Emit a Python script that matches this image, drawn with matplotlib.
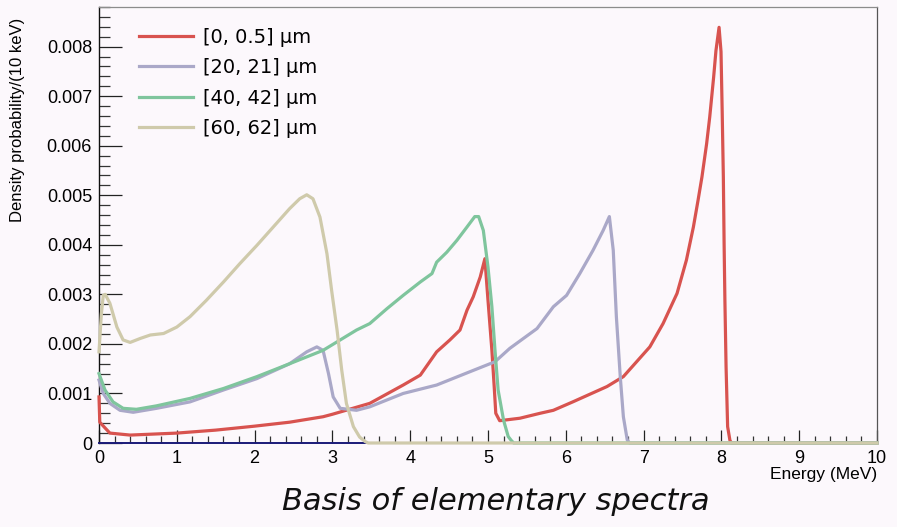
import matplotlib
matplotlib.use("Agg")
import matplotlib.pyplot as plt
from matplotlib.ticker import MultipleLocator, FuncFormatter

# Spectra: energy (MeV) and density probability per 10 keV
labels = ["[0, 0.5] \u03bcm", "[20, 21] \u03bcm", "[40, 42] \u03bcm", "[60, 62] \u03bcm"]
colors = ["#d8534f", "#aaa8c8", "#7fc59d", "#cfcaab"]

e_0_05 = [0.0, 0.01, 0.08, 0.14, 0.4, 1.0, 1.5, 2.0, 2.45, 2.88, 3.0, 3.48, 3.91, 4.13,
          4.34, 4.51, 4.64, 4.73, 4.81, 4.90, 4.96, 5.00, 5.05, 5.08, 5.10, 5.15, 5.41,
          5.67, 5.84, 6.09, 6.53, 6.74, 6.91, 7.08, 7.25, 7.43, 7.55, 7.64, 7.70, 7.75,
          7.81, 7.85, 7.90, 7.93, 7.97, 7.995, 8.01, 8.025, 8.035, 8.045, 8.06, 8.08,
          8.11, 8.13, 10.0]
p_0_05 = [0.00093, 0.00042, 0.00030, 0.00020, 0.00016, 0.00020, 0.00026, 0.00034,
          0.00042, 0.00053, 0.00058, 0.00080, 0.00117, 0.00137, 0.00184, 0.00208,
          0.00228, 0.00268, 0.00295, 0.00335, 0.00372, 0.00288, 0.00187, 0.00113,
          0.00060, 0.00045, 0.00050, 0.00060, 0.00066, 0.00083, 0.00114, 0.00134,
          0.00164, 0.00194, 0.00241, 0.00302, 0.00369, 0.00436, 0.00490, 0.00537,
          0.00604, 0.00658, 0.00738, 0.00792, 0.00839, 0.00790, 0.00670, 0.00537,
          0.00400, 0.00288, 0.00154, 0.00033, 0.00005, 0.0, 0.0]

e_20_21 = [0.0, 0.055, 0.14, 0.27, 0.44, 0.74, 1.17, 1.6, 2.03, 2.45, 2.67, 2.80, 2.88,
           2.95, 3.01, 3.10, 3.31, 3.48, 3.91, 4.34, 4.77, 5.09, 5.28, 5.63, 5.84, 6.01,
           6.18, 6.35, 6.48, 6.56, 6.61, 6.65, 6.70, 6.74, 6.79, 6.82, 10.0]
p_20_21 = [0.00127, 0.00100, 0.00080, 0.00066, 0.00062, 0.00070, 0.00083, 0.00107,
           0.00130, 0.00160, 0.00184, 0.00194, 0.00187, 0.00140, 0.00093, 0.00070,
           0.00066, 0.00073, 0.00100, 0.00117, 0.00144, 0.00164, 0.00191, 0.00231,
           0.00275, 0.00298, 0.00342, 0.00389, 0.00429, 0.00457, 0.00389, 0.00255,
           0.00134, 0.00053, 0.00006, 0.0, 0.0]

e_40_42 = [0.0, 0.077, 0.18, 0.31, 0.48, 0.74, 1.17, 1.6, 2.03, 2.45, 2.88, 3.31, 3.48,
           3.70, 3.91, 4.13, 4.28, 4.34, 4.47, 4.60, 4.73, 4.83, 4.88, 4.94, 5.00, 5.05,
           5.09, 5.13, 5.20, 5.26, 5.30, 5.33, 10.0]
p_40_42 = [0.00140, 0.00107, 0.00083, 0.00070, 0.00068, 0.00075, 0.00090, 0.00110,
           0.00134, 0.00160, 0.00187, 0.00228, 0.00241, 0.00271, 0.00298, 0.00325,
           0.00342, 0.00365, 0.00385, 0.00409, 0.00436, 0.00457, 0.00457, 0.00429,
           0.00355, 0.00275, 0.00187, 0.00107, 0.00046, 0.00013, 0.00005, 0.0, 0.0]

e_60_62 = [0.0, 0.03, 0.055, 0.08, 0.14, 0.23, 0.31, 0.40, 0.53, 0.66, 0.83, 1.0, 1.17,
           1.38, 1.6, 1.81, 2.03, 2.24, 2.45, 2.58, 2.67, 2.75, 2.84, 2.93, 2.99, 3.06,
           3.12, 3.18, 3.27, 3.35, 3.42, 3.46, 10.0]
p_60_62 = [0.00184, 0.00260, 0.00298, 0.00300, 0.00282, 0.00234, 0.00208, 0.00203,
           0.00211, 0.00218, 0.00221, 0.00234, 0.00255, 0.00288, 0.00325, 0.00362,
           0.00399, 0.00436, 0.00473, 0.00493, 0.00501, 0.00493, 0.00456, 0.00382,
           0.00308, 0.00228, 0.00147, 0.00080, 0.00033, 0.00012, 0.00003, 0.0, 0.0]

y_ticks = [0, 0.001, 0.002, 0.003, 0.004, 0.005, 0.006, 0.007, 0.008]
x_ticks = [0, 1, 2, 3, 4, 5, 6, 7, 8, 9, 10]

bg = "#fcf8fc"
W, H = 897, 527
fig = plt.figure(figsize=(W / 100, H / 100), dpi=100, facecolor=bg)
ax = fig.add_axes([99 / W, 1 - 443 / H, 778 / W, 436 / H], facecolor=bg)

series = [(e_0_05, p_0_05), (e_20_21, p_20_21), (e_40_42, p_40_42), (e_60_62, p_60_62)]
for (e, p), c, lab in zip(series, colors, labels):
    ax.plot(e, p, color=c, lw=2.3, label=lab, solid_joinstyle="round", zorder=3,
            clip_on=False)

ax.set_xlim(0, 10)
ax.set_ylim(0, 0.0088)

ax.set_xticks(x_ticks)
ax.set_yticks(y_ticks)
ax.xaxis.set_minor_locator(MultipleLocator(0.2))
ax.yaxis.set_minor_locator(MultipleLocator(0.0002))
ax.yaxis.set_major_formatter(FuncFormatter(lambda v, _: "0" if v == 0 else f"{v:.3f}"))
ax.xaxis.set_major_formatter(FuncFormatter(lambda v, _: f"{v:g}"))

for lbl in ax.get_xticklabels() + ax.get_yticklabels():
    lbl.set_fontfamily("Liberation Sans")
    lbl.set_fontsize(13)

ax.tick_params(axis="y", which="major", direction="in", length=16.5, width=0.9,
               color="#222222", pad=5)
ax.tick_params(axis="y", which="minor", direction="in", length=8, width=0.9,
               color="#333333")
ax.tick_params(axis="x", which="major", direction="in", length=9.5, width=0.9,
               color="#222222", pad=5)
ax.tick_params(axis="x", which="minor", direction="in", length=5, width=0.9,
               color="#333333")

ax.spines["left"].set_color("#111111")
ax.spines["left"].set_linewidth(1.0)
ax.spines["bottom"].set_color("#1a1a78")
ax.spines["bottom"].set_linewidth(1.4)
ax.spines["top"].set_color("#8c8c8c")
ax.spines["top"].set_linewidth(0.9)
ax.spines["right"].set_color("#555555")
ax.spines["right"].set_linewidth(0.9)

leg = ax.legend(loc="upper left", bbox_to_anchor=(139 / W, 1 - 28 / H),
                bbox_transform=fig.transFigure, frameon=False,
                prop={"family": "DejaVu Sans", "size": 14}, handlelength=2.8,
                handletextpad=0.5, labelspacing=0.58, borderpad=0, borderaxespad=0)
for line in leg.get_lines():
    line.set_linewidth(2.3)

fig.text(877 / W, 1 - 474 / H, "Energy (MeV)", ha="right", va="center",
         family="Liberation Sans", size=12.5)
fig.text(18 / W, 1 - 120 / H, "Density probability/(10 keV)", ha="center",
         va="center", rotation=90, family="Liberation Sans", size=12)
fig.text(496 / W, 1 - 501 / H, "Basis of elementary spectra", ha="center",
         va="center", family="DejaVu Sans", style="oblique", size=22, color="#111111")

fig.savefig("out.png", dpi=100, facecolor=bg)
